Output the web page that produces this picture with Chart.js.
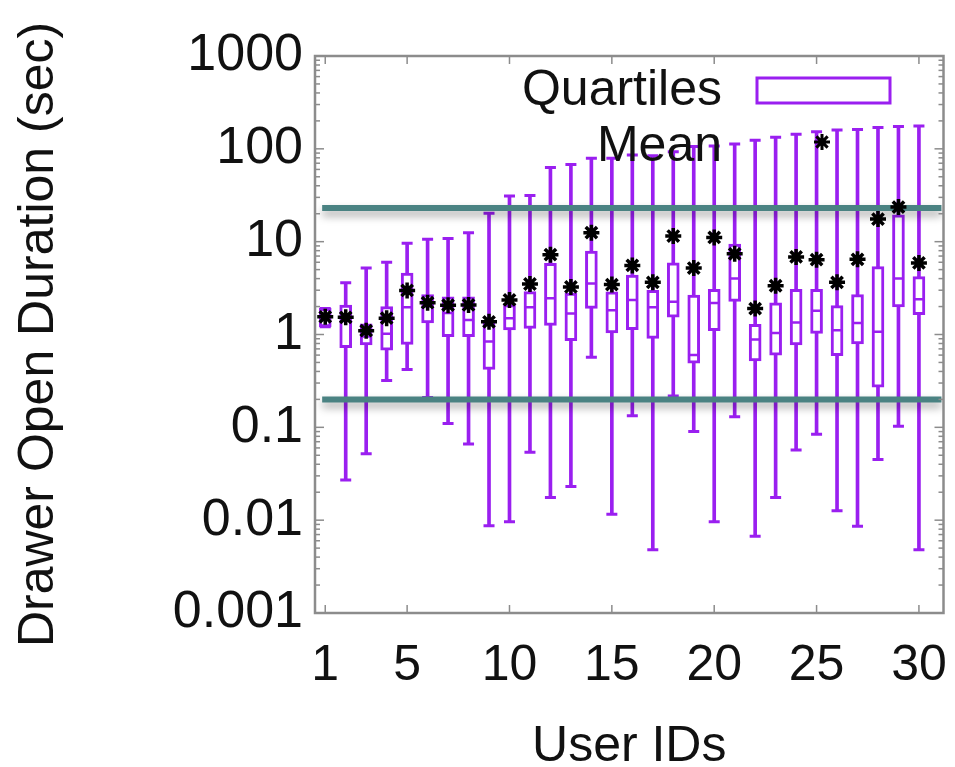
<!DOCTYPE html>
<html>
<head>
<meta charset="utf-8">
<title>Drawer Open Duration</title>
<script src="https://cdn.jsdelivr.net/npm/chart.js@4.4.1/dist/chart.umd.min.js"></script>
<style>
  html, body { margin: 0; padding: 0; background: #fff; }
</style>
</head>
<body>
<canvas id="boxChart" width="955" height="767"></canvas>
<script>
// values (seconds, log axis)
const users = [1, 2, 3, 4, 5, 6, 7, 8, 9, 10, 11, 12, 13, 14, 15,
               16, 17, 18, 19, 20, 21, 22, 23, 24, 25, 26, 27, 28, 29, 30];
const whiskerLow = [1.21, 0.027, 0.052, 0.32, 0.42, 0.21, 0.11, 0.066, 0.0087, 0.0096,
                    0.054, 0.0175, 0.023, 0.57, 0.0116, 0.133, 0.0048, 0.217, 0.09, 0.0096,
                    0.13, 0.0067, 0.0175, 0.057, 0.084, 0.0126, 0.0086, 0.045, 0.103, 0.0048];
const q1 = [1.21, 0.72, 0.77, 0.68, 0.78, 1.33, 0.95, 0.95, 0.42, 1.12,
            1.16, 1.25, 0.86, 1.91, 1.04, 1.13, 0.91, 1.54, 0.49, 1.1,
            2.27, 0.52, 0.6, 0.77, 1.03, 0.59, 0.79, 0.27, 1.98, 1.64];
const median = [1.5, 1.4, 0.95, 1.02, 1.97, 2.0, 1.7, 1.43, 0.84, 1.5,
                1.97, 2.45, 1.68, 3.55, 1.83, 2.35, 1.97, 2.25, 0.6, 2.18,
                4.0, 0.885, 1.04, 1.35, 1.8, 1.11, 1.33, 1.07, 4.0, 2.4];
const q3 = [1.91, 2.07, 1.3, 2.0, 4.6, 2.7, 2.55, 2.55, 1.32, 2.1,
            2.9, 5.85, 2.8, 7.9, 2.88, 4.36, 3.0, 5.9, 2.66, 3.06,
            9.4, 1.29, 2.2, 3.06, 3.06, 2.05, 2.7, 5.4, 19.5, 4.2];
const whiskerHigh = [1.91, 3.6, 5.2, 6.0, 9.6, 10.6, 10.8, 12.5, 20.2, 31,
                     31.5, 63, 68, 79, 79, 86, 84, 93, 106, 107,
                     113, 124, 133, 144, 153, 160, 162, 170, 174, 176];
const mean = [1.55, 1.53, 1.1, 1.5, 2.98, 2.2, 2.07, 2.08, 1.37, 2.36,
              3.5, 7.25, 3.25, 12.5, 3.45, 5.55, 3.65, 11.5, 5.2, 11.1,
              7.4, 1.9, 3.35, 6.85, 6.4, 3.65, 6.45, 17.5, 23.6, 5.9];
const thresholds = [23, 0.2];
const thresholdSpan = [0.85, 31.1];
const xTicks = [1, 5, 10, 15, 20, 25, 30];
const yTicks = [0.001, 0.01, 0.1, 1, 10, 100, 1000];

const purple = '#9a1ff0';
const teal = '#4a8282';
const fontFamily = "'Liberation Sans', Arial, Helvetica, sans-serif";

function pairs(a, b) {
    return users.map((u, i) => ({ x: u, y: [a[i], b[i]] }));
}
function points(vals) {
    return users.map((u, i) => ({ x: u, y: vals[i] }));
}

const shadowed = new Set();

const lineShadow = {
    id: 'lineShadow',
    beforeDatasetDraw(chart, args) {
        if (!shadowed.has(args.index)) return;
        const ctx = chart.ctx;
        ctx.save();
        ctx.shadowColor = 'rgba(0,0,0,0.35)';
        ctx.shadowBlur = 9;
        ctx.shadowOffsetY = 5;
    },
    afterDatasetDraw(chart, args) {
        if (shadowed.has(args.index)) chart.ctx.restore();
    }
};

// gnuplot style frame with inward ticks
const frame = {
    id: 'frame',
    afterDatasetsDraw(chart) {
        const { ctx, chartArea: a, scales } = chart;
        const line = (x1, y1, x2, y2) => {
            ctx.beginPath(); ctx.moveTo(x1, y1); ctx.lineTo(x2, y2); ctx.stroke();
        };
        ctx.save();
        ctx.strokeStyle = '#8c8c8c';
        ctx.lineWidth = 1.5;
        for (let e = -3; e <= 3; e++) {
            for (let m = 1; m <= 9; m++) {
                const v = m * Math.pow(10, e);
                if (v > 1000) break;
                const py = scales.y.getPixelForValue(v);
                const len = m === 1 ? 9 : 5;
                line(a.left, py, a.left + len, py);
                line(a.right, py, a.right - len, py);
            }
        }
        xTicks.forEach(v => {
            const px = scales.x.getPixelForValue(v);
            line(px, a.bottom, px, a.bottom - 8);
            line(px, a.top, px, a.top + 8);
        });
        ctx.lineWidth = 2.5;
        ctx.strokeRect(a.left, a.top, a.right - a.left, a.bottom - a.top);
        ctx.restore();
    }
};

// key box in the upper right, as gnuplot places it
const keyBox = {
    id: 'keyBox',
    afterDraw(chart) {
        const ctx = chart.ctx;
        ctx.save();
        ctx.font = '50px ' + fontFamily;
        ctx.fillStyle = '#111';
        ctx.textAlign = 'right';
        ctx.textBaseline = 'middle';
        ctx.fillText('Quartiles', 722, 91);
        ctx.fillText('Mean', 722, 147);
        ctx.strokeStyle = purple;
        ctx.lineWidth = 3;
        ctx.strokeRect(757, 78, 133, 25);
        ctx.strokeStyle = '#000';
        Chart.helpers.drawPoint(ctx, { pointStyle: 'star', radius: 8, borderWidth: 3.5 }, 822, 142);
        ctx.restore();
    }
};

const ctx = document.getElementById('boxChart').getContext('2d');

const datasets = [
    {
        type: 'line', label: 'upper',
        data: thresholdSpan.map(x => ({ x: x, y: thresholds[0] })),
        borderColor: teal, borderWidth: 6, pointRadius: 0, order: 1
    },
    {
        type: 'line', label: 'lower',
        data: thresholdSpan.map(x => ({ x: x, y: thresholds[1] })),
        borderColor: teal, borderWidth: 6, pointRadius: 0, order: 1
    },
    {
        type: 'bar', label: 'whiskers',
        data: pairs(whiskerLow, whiskerHigh),
        backgroundColor: purple, borderWidth: 0,
        barThickness: 3, grouped: false, order: 6
    },
    {
        type: 'bar', label: 'Quartiles',
        data: pairs(q1, q3),
        backgroundColor: '#ffffff', borderColor: purple, borderWidth: 3,
        borderSkipped: false, barThickness: 12, grouped: false, order: 4
    },
    {
        type: 'scatter', label: 'low caps', data: points(whiskerLow),
        pointStyle: 'line', radius: 5.5, borderColor: purple, borderWidth: 3, order: 5
    },
    {
        type: 'scatter', label: 'high caps', data: points(whiskerHigh),
        pointStyle: 'line', radius: 5.5, borderColor: purple, borderWidth: 3, order: 5
    },
    {
        type: 'scatter', label: 'median', data: points(median),
        pointStyle: 'line', radius: 5.5, borderColor: purple, borderWidth: 2.5, order: 3
    },
    {
        type: 'scatter', label: 'Mean', data: points(mean),
        pointStyle: 'star', radius: 8, borderColor: '#000', borderWidth: 3.5, order: 0
    }
];
shadowed.add(0);
shadowed.add(1);

const chart = new Chart(ctx, {
    data: { datasets: datasets },
    options: {
        responsive: false,
        animation: false,
        layout: { padding: { left: 0, right: 7, top: 56, bottom: 0 } },
        plugins: {
            legend: { display: false },
            tooltip: { enabled: false }
        },
        scales: {
            x: {
                type: 'linear', min: 0.5, max: 31.2, offset: false,
                grid: { display: false, drawTicks: false, offset: false },
                border: { display: false },
                afterBuildTicks: s => { s.ticks = xTicks.map(v => ({ value: v })); },
                afterFit: s => { s.height = 154; s.paddingLeft = 0; s.paddingRight = 0; },
                ticks: {
                    padding: 23, color: '#111', maxRotation: 0,
                    font: { family: fontFamily, size: 50 }
                },
                title: {
                    display: true, text: 'User IDs', color: '#111',
                    font: { family: fontFamily, size: 50, lineHeight: 0.8 },
                    padding: { top: 0, bottom: 0 }
                }
            },
            y: {
                type: 'logarithmic', min: 0.001, max: 1000,
                grid: { display: false, drawTicks: false },
                border: { display: false },
                afterBuildTicks: s => { s.ticks = yTicks.map(v => ({ value: v })); },
                afterFit: s => { s.width = 315; s.paddingTop = 0; s.paddingBottom = 0; },
                ticks: {
                    padding: 12, color: '#111',
                    font: { family: fontFamily, size: 52 },
                    callback: v => String(v)
                },
                title: {
                    display: true, text: 'Drawer Open Duration (sec)', color: '#111',
                    font: { family: fontFamily, size: 50, lineHeight: 1 },
                    padding: { top: 14, bottom: 0 }
                }
            }
        }
    },
    plugins: [lineShadow, frame, keyBox]
});
</script>
</body>
</html>
